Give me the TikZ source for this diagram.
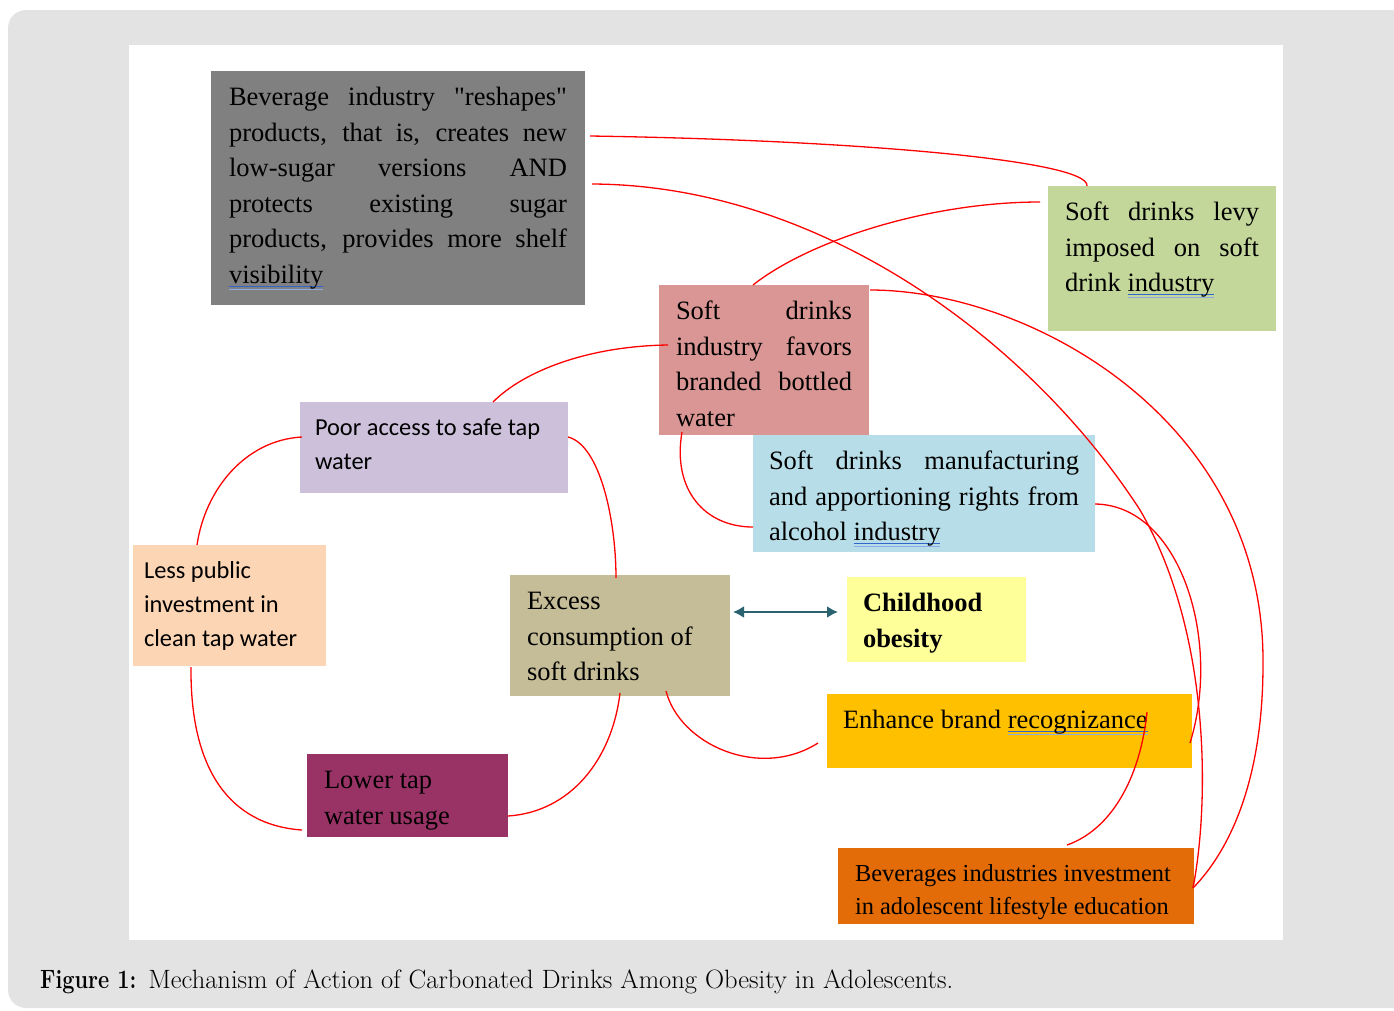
\documentclass[tikz,border=0pt]{standalone}
\usepackage{fontspec}
\newfontfamily\timesfont{Liberation Serif}
\newfontfamily\calfont{Carlito}
\usepackage{xcolor}
\definecolor{panelgray}{RGB}{227,227,227}
\definecolor{bevgray}{RGB}{128,128,128}
\definecolor{levygreen}{RGB}{196,215,155}
\definecolor{favorpink}{RGB}{217,150,148}
\definecolor{poorlilac}{RGB}{204,192,218}
\definecolor{alcoblue}{RGB}{183,222,232}
\definecolor{lesspeach}{RGB}{252,213,180}
\definecolor{excesskhaki}{RGB}{196,189,151}
\definecolor{childyellow}{RGB}{255,255,153}
\definecolor{brandgold}{RGB}{255,192,0}
\definecolor{lowerplum}{RGB}{153,51,102}
\definecolor{investorange}{RGB}{227,108,9}
\definecolor{linkred}{RGB}{255,0,0}
\definecolor{arrowteal}{RGB}{42,98,112}
\definecolor{markblue}{RGB}{51,102,204}
\usetikzlibrary{
    arrows.meta,
    positioning,
    calc
}

% box text: width, height (pt), text top aligned
\newcommand{\boxtext}[3]{\parbox[t][#2pt][t]{#1pt}{\hyphenpenalty=10000 \exhyphenpenalty=10000 \tolerance=10000 \strut#3}}
% blue double underline (grammar mark)
\newsavebox{\markbox}
\newcommand{\gmark}[1]{\sbox{\markbox}{#1}\rlap{\textcolor{markblue}{\rule[-3.5pt]{\wd\markbox}{1pt}}}\rlap{\textcolor{markblue!55}{\rule[-6.5pt]{\wd\markbox}{1pt}}}\usebox{\markbox}}

\begin{document}
\begin{tikzpicture}[x=1pt,y=-1pt,
    factor/.style={anchor=north west, inner ysep=10pt, outer sep=0pt, text=black,
        font=\timesfont\fontsize{26.5}{35.5}\selectfont},
    sansfactor/.style={factor, font=\calfont\fontsize{24.4}{34}\selectfont},
    redlink/.style={draw=linkred, line width=1.3pt}
]
    \useasboundingbox (0,0) rectangle (1394,1010);
    % panel and white sheet
    \fill[panelgray, rounded corners=18pt] (8,10) rectangle (1430,1008);
    \fill[white] (129,45) rectangle (1283,940);

    % factors
    \node[factor, fill=bevgray, inner xsep=18pt] (bev) at (211,71)
        {\boxtext{338}{214}{Beverage industry "reshapes"\linebreak products, that is, creates new\linebreak low-sugar versions AND\linebreak protects existing sugar\linebreak products, provides more shelf\linebreak \gmark{visibility}}};
    \node[factor, fill=levygreen, inner xsep=17pt] (levy) at (1048,186)
        {\boxtext{194}{125}{Soft drinks levy\linebreak imposed on soft\linebreak drink \gmark{industry}}};
    \node[factor, fill=favorpink, inner xsep=17pt] (favors) at (659,285)
        {\boxtext{176}{130}{Soft drinks\linebreak industry favors\linebreak branded bottled\linebreak water}};
    \node[sansfactor, fill=poorlilac, inner xsep=15pt] (poor) at (300,402)
        {\boxtext{238}{71}{\raggedright Poor access to safe tap\\ water}};
    \node[factor, fill=alcoblue, inner xsep=16pt] (alcohol) at (753,435)
        {\boxtext{310}{97}{Soft drinks manufacturing\linebreak and apportioning rights from\linebreak alcohol \gmark{industry}}};
    \node[sansfactor, fill=lesspeach, inner xsep=11pt] (less) at (133,545)
        {\boxtext{171}{101}{\raggedright Less public\\ investment in\\ clean tap water}};
    \node[factor, fill=excesskhaki, inner xsep=17pt] (excess) at (510,575)
        {\boxtext{186}{101}{\raggedright Excess\\ consumption of\\ soft drinks}};
    \node[factor, fill=childyellow, inner xsep=16pt] (child) at (847,577)
        {\boxtext{147}{65}{\raggedright\bfseries Childhood\\ obesity}};
    \node[factor, fill=brandgold, inner xsep=16pt] (enhance) at (827,694)
        {\boxtext{333}{54}{\raggedright Enhance brand \gmark{recognizance}}};
    \node[factor, fill=lowerplum, inner xsep=17pt] (lower) at (307,754)
        {\boxtext{167}{63}{\raggedright Lower tap\\ water usage}};
    \node[factor, fill=investorange, inner xsep=17pt, font=\timesfont\fontsize{24.4}{33}\selectfont] (invest) at (838,848)
        {\boxtext{322}{56}{\raggedright Beverages industries investment\\ in adolescent lifestyle education}};

    % red links
    \draw[redlink] ($(bev.north east)+(5,65)$) .. controls +(260,4) and +(3,-26) .. ($(levy.north west)+(39,0)$);
    \draw[redlink] ($(bev.north east)+(7,113)$) .. controls +(228,1) and +(-110,-170) .. (1140,510)
        .. controls +(70,120) and +(17,-88) .. ($(invest.north east)+(-1,40)$);
    \draw[redlink] ($(favors.north east)+(1,5)$) .. controls +(160,0) and +(2,-244) .. (1263,664)
        .. controls +(0,116) and +(37,-38) .. ($(invest.north east)+(-1,40)$);
    \draw[redlink] ($(levy.north west)+(-8,16)$) .. controls +(-110,0) and +(57,-45) .. ($(favors.north west)+(94,0)$);
    \draw[redlink] ($(favors.north west)+(9,60)$) .. controls +(-78,1) and +(32,-32) .. ($(poor.north west)+(193,0)$);
    \draw[redlink] ($(favors.south west)+(23,-3)$) .. controls +(-10,58) and +(-48,0) .. ($(alcohol.north west)+(0,92)$);
    \draw[redlink] ($(poor.north west)+(2,35)$) .. controls +(-57,3) and +(8,-55) .. ($(less.north west)+(64,0)$);
    \draw[redlink] ($(poor.north east)+(0,35)$) .. controls +(32,8) and +(0,-58) .. ($(excess.north west)+(106,3)$);
    \draw[redlink] ($(less.south west)+(58,1)$) .. controls +(-1,103) and +(-72,-5) .. ($(lower.north west)+(-5,76)$);
    \draw[redlink] ($(excess.south west)+(110,-3)$) .. controls +(-8,67) and +(62,-4) .. ($(lower.north east)+(0,62)$);
    \draw[redlink] ($(excess.south west)+(156,-5)$) .. controls +(14,54) and +(-58,37) .. ($(enhance.north west)+(-9,49)$);
    \draw[redlink] ($(alcohol.north east)+(0,69)$) .. controls +(85,1) and +(32,-103) .. ($(enhance.north east)+(-2,49)$);
    \draw[redlink] ($(enhance.north east)+(-45,18)$) .. controls +(-7,68) and +(43,-15) .. ($(invest.north west)+(229,-3)$);

    % two-way link to obesity
    \draw[arrowteal, line width=2pt, {Latex[length=11pt,width=12pt]}-{Latex[length=11pt,width=12pt]}]
        ($(excess.north east)+(3,37)$) -- ($(child.north west)+(-9,35)$);

    % caption
    \node[anchor=base west, inner sep=0pt, font=\fontsize{26.5}{31}\selectfont] (caption) at (40,988)
        {\scalebox{0.82}[1]{\textbf{Figure 1:}}\hspace{0.45em}Mechanism of Action of Carbonated Drinks Among Obesity in Adolescents.};
\end{tikzpicture}
\end{document}
